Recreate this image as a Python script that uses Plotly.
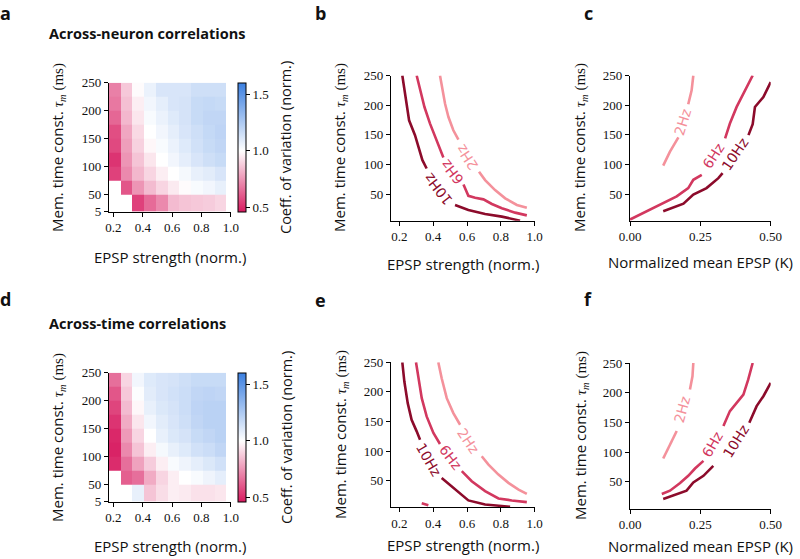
import plotly.graph_objects as go

W, H = 800, 559

# ---------------- data ----------------
epsp_edges = [0.17, 0.25, 0.33, 0.41, 0.49, 0.57, 0.65, 0.73, 0.81, 0.89, 0.97]
tau_edges = [20, 50, 75, 100, 125, 150, 175, 200, 225, 250]
tau_ticks = [20, 50, 100, 150, 200, 250]
tau_ticklabels = ["5", "50", "100", "150", "200", "250"]
epsp_ticks = [0.2, 0.4, 0.6, 0.8, 1.0]
epsp_ticklabels = ["0.2", "0.4", "0.6", "0.8", "1.0"]
k_ticks = [0.0, 0.25, 0.5]
k_ticklabels = ["0.00", "0.25", "0.50"]
line_tau_ticks = [50, 100, 150, 200, 250]
line_tau_ticklabels = ["50", "100", "150", "200", "250"]
cv_ticks = [0.5, 1.0, 1.5]
cv_ticklabels = ["0.5", "1.0", "1.5"]
cv_min, cv_max = 0.46, 1.6

# rows bottom -> top, columns left -> right (None = not computed)
cv_neuron = [
    [None, None, 0.55, 0.65, 0.72, 0.84, 0.86, 0.87, 0.88, 0.90],
    [None, 0.60, 0.75, 0.84, 0.90, 0.95, 0.99, 1.02, 1.04, 1.07],
    [0.55, 0.72, 0.83, 0.90, 0.96, 1.00, 1.03, 1.07, 1.09, 1.12],
    [0.52, 0.75, 0.86, 0.94, 1.00, 1.04, 1.08, 1.12, 1.15, 1.17],
    [0.57, 0.77, 0.89, 0.98, 1.02, 1.06, 1.10, 1.14, 1.17, 1.19],
    [0.58, 0.79, 0.91, 1.00, 1.04, 1.08, 1.12, 1.15, 1.18, 1.20],
    [0.64, 0.83, 0.94, 1.02, 1.06, 1.10, 1.13, 1.17, 1.19, 1.19],
    [0.68, 0.85, 0.96, 1.04, 1.08, 1.12, 1.13, 1.17, 1.18, 1.17],
    [0.70, 0.87, 0.99, 1.06, 1.12, 1.12, 1.12, 1.15, 1.15, 1.15],
]
cv_time = [
    [None, None, 1.07, 0.86, 0.92, 0.96, 0.95, 0.93, 0.93, 0.94],
    [None, 0.62, 0.66, 0.80, 0.90, 0.96, 1.00, 1.02, 1.05, 1.08],
    [0.50, 0.66, 0.78, 0.88, 0.96, 1.02, 1.05, 1.08, 1.11, 1.14],
    [0.48, 0.72, 0.86, 0.96, 1.03, 1.07, 1.10, 1.14, 1.16, 1.19],
    [0.49, 0.76, 0.90, 1.00, 1.07, 1.11, 1.13, 1.17, 1.19, 1.21],
    [0.52, 0.80, 0.94, 1.04, 1.09, 1.12, 1.15, 1.19, 1.21, 1.21],
    [0.56, 0.84, 0.98, 1.07, 1.11, 1.13, 1.16, 1.20, 1.21, 1.21],
    [0.60, 0.87, 1.01, 1.09, 1.12, 1.14, 1.16, 1.19, 1.20, 1.19],
    [0.66, 0.90, 1.04, 1.10, 1.12, 1.13, 1.15, 1.17, 1.17, 1.17],
]

# iso-rate contours (None = gap where inline label sits)
b_2hz_x = [0.440, 0.454, 0.470, 0.490, 0.519, 0.549, None, 0.671, 0.707, 0.766, 0.826, 0.895, 0.954]
b_2hz_y = [250, 224.8, 202.4, 180, 157.6, 141.9, None, 87.5, 73.5, 56.7, 42.7, 31.5, 27]
b_6hz_x = [0.302, 0.322, 0.348, 0.381, 0.411, 0.440, 0.460, None, 0.579, 0.608, 0.648, 0.697, 0.747, 0.806, 0.885, 0.954]
b_6hz_y = [250, 224.8, 196.8, 168.8, 146.4, 124, 111.6, None, 66, 47, 43.8, 41, 33.2, 26, 18.6, 14]
b_10hz_x = [0.217, 0.229, 0.243, 0.257, 0.292, 0.312, 0.336, 0.361, None, 0.529, 0.608, 0.707, 0.806, 0.914]
b_10hz_y = [250, 224.8, 196.8, 174.4, 149.2, 129.6, 107.1, 93.1, None, 31.5, 23.1, 16.4, 11.9, 5]

c_2hz_x = [0.118, 0.142, 0.172, None, 0.207, 0.219, 0.225]
c_2hz_y = [98, 121.5, 145.5, None, 201.4, 224.9, 250]
c_6hz_x = [0.0, 0.059, 0.118, 0.166, 0.207, 0.225, 0.255, None, 0.338, 0.355, 0.379, 0.403, 0.436]
c_6hz_y = [7, 21, 33.8, 46, 60, 74, 82.4, None, 143.9, 169, 197, 219.3, 250]
c_10hz_x = [0.118, 0.190, 0.225, 0.272, 0.314, 0.329, None, 0.421, 0.436, 0.444, 0.474, 0.5]
c_10hz_y = [21, 33.8, 49, 60, 76.8, 85.2, None, 149.4, 167.9, 196.9, 213.7, 238.8]

e_2hz_x = [0.430, 0.450, 0.480, 0.519, 0.559, None, 0.687, 0.727, 0.786, 0.845, 0.905, 0.954]
e_2hz_y = [250, 223, 189.4, 164.1, 144.5, None, 91.2, 77.2, 60.3, 46.3, 35, 27.8]
e_6hz_x = [0.298, 0.312, 0.332, 0.361, 0.401, 0.440, None, 0.569, 0.628, 0.707, 0.786, 0.865, 0.954, None, 0.332, 0.371]
e_6hz_y = [250, 223, 189.4, 158.5, 130.5, 112, None, 66, 49.1, 32.3, 20, 16.6, 13.8, None, 12, 8.5]
e_10hz_x = [0.217, 0.229, 0.249, 0.272, 0.302, 0.322, None, 0.450, 0.510, 0.608, 0.707, 0.855]
e_10hz_y = [250, 217.5, 181, 152.9, 133.3, 119, None, 54.7, 40.7, 16.6, 9.8, 6]

f_2hz_x = [0.118, 0.142, 0.166, None, 0.213, 0.222, 0.225]
f_2hz_y = [89.1, 113.1, 135.5, None, 205.3, 227.7, 250]
f_6hz_x = [0.113, 0.142, 0.178, 0.207, 0.231, 0.261, None, 0.332, 0.355, 0.403, 0.420, 0.436]
f_6hz_y = [29.3, 35, 47.8, 60, 72.3, 85.2, None, 143.9, 169, 196.9, 222, 250]
f_10hz_x = [0.118, 0.154, 0.201, 0.225, 0.261, 0.296, None, 0.424, 0.450, 0.474, 0.5]
f_10hz_y = [21, 26.5, 35, 48.9, 60, 76.8, None, 149.4, 177.4, 194.1, 216.5]

# contour label (text, x, y, angle) per panel
labels_b = [("2Hz", 0.599, 112.7, -123), ("6Hz", 0.510, 87.5, -128), ("10Hz", 0.430, 59.5, -128)]
labels_c = [("2Hz", 0.187, 171.8, -73), ("6Hz", 0.296, 114.3, -57), ("10Hz", 0.373, 117.7, -56)]
labels_e = [("2Hz", 0.608, 117.5, 56), ("6Hz", 0.500, 89.4, 52), ("10Hz", 0.375, 85.5, 60)]
labels_f = [("2Hz", 0.187, 171.8, -75), ("6Hz", 0.294, 113.1, -60), ("10Hz", 0.377, 118.7, -58)]

rate_colors = {"2Hz": "#f4919b", "6Hz": "#d2385f", "10Hz": "#8c0b2b"}

# ---------------- styles ----------------
SANS = "Open Sans"
SERIF = "Liberation Serif, DejaVu Serif, Times New Roman, serif"
TICKFONT = dict(family=SERIF, size=13, color="#111")


def xd(p0, p1):
    return [p0 / W, p1 / W]


def yd(top, bottom):
    return [1 - bottom / H, 1 - top / H]


def axis(domain, rng, tickvals, ticktext, anchor):
    return dict(domain=domain, range=rng, tickvals=tickvals, ticktext=ticktext,
                anchor=anchor, showline=True, linecolor="black", linewidth=1.2,
                ticks="outside", ticklen=4, tickwidth=1, tickcolor="black",
                showgrid=False, zeroline=False, mirror=False, tickfont=TICKFONT,
                fixedrange=True, automargin=False)


fig = go.Figure()

cscale = [[0.0, "#d81b60"], [(1.0 - cv_min) / (cv_max - cv_min), "#ffffff"], [1.0, "#3b7fe0"]]

fig.add_trace(go.Heatmap(x=epsp_edges, y=tau_edges, z=cv_neuron, coloraxis="coloraxis",
                         xaxis="x", yaxis="y", hoverongaps=False))
fig.add_trace(go.Heatmap(x=epsp_edges, y=tau_edges, z=cv_time, coloraxis="coloraxis2",
                         xaxis="x4", yaxis="y4", hoverongaps=False))


def add_lines(ax, series):
    for name, xs, ys in series:
        fig.add_trace(go.Scatter(x=xs, y=ys, mode="lines", connectgaps=False,
                                 line=dict(color=rate_colors[name], width=2.6),
                                 xaxis="x" + ax, yaxis="y" + ax, showlegend=False,
                                 hoverinfo="skip"))


add_lines("2", [("2Hz", b_2hz_x, b_2hz_y), ("6Hz", b_6hz_x, b_6hz_y), ("10Hz", b_10hz_x, b_10hz_y)])
add_lines("3", [("2Hz", c_2hz_x, c_2hz_y), ("6Hz", c_6hz_x, c_6hz_y), ("10Hz", c_10hz_x, c_10hz_y)])
add_lines("5", [("2Hz", e_2hz_x, e_2hz_y), ("6Hz", e_6hz_x, e_6hz_y), ("10Hz", e_10hz_x, e_10hz_y)])
add_lines("6", [("2Hz", f_2hz_x, f_2hz_y), ("6Hz", f_6hz_x, f_6hz_y), ("10Hz", f_10hz_x, f_10hz_y)])


def cbar(yc):
    return dict(x=237.5 / W, xanchor="left", xpad=0, ypad=0, y=1 - yc / H, yanchor="middle",
                len=129, lenmode="pixels", thickness=8, thicknessmode="pixels",
                outlinewidth=1, outlinecolor="black", ticks="outside", ticklen=4,
                tickcolor="black", tickvals=cv_ticks, ticktext=cv_ticklabels,
                tickfont=TICKFONT)


layout = dict(
    width=W, height=H, margin=dict(l=0, r=0, t=0, b=0, autoexpand=False),
    paper_bgcolor="white", plot_bgcolor="white", showlegend=False,
    coloraxis=dict(colorscale=cscale, cmin=cv_min, cmax=cv_max, colorbar=cbar(147.2)),
    coloraxis2=dict(colorscale=cscale, cmin=cv_min, cmax=cv_max, colorbar=cbar(437.2)),
    xaxis=axis(xd(109, 230.8), [0.17, 1.0], epsp_ticks, epsp_ticklabels, "y"),
    yaxis=axis(yd(82.7, 211.6), [20, 250], tau_ticks, tau_ticklabels, "x"),
    xaxis2=axis(xd(391, 534.6), [0.15, 1.0], epsp_ticks, epsp_ticklabels, "y2"),
    yaxis2=axis(yd(75.5, 220.7), [5, 250], line_tau_ticks, line_tau_ticklabels, "x2"),
    xaxis3=axis(xd(630, 770.7), [0.0, 0.5], k_ticks, k_ticklabels, "y3"),
    yaxis3=axis(yd(75.5, 220.7), [5, 250], line_tau_ticks, line_tau_ticklabels, "x3"),
    xaxis4=axis(xd(109, 230.8), [0.17, 1.0], epsp_ticks, epsp_ticklabels, "y4"),
    yaxis4=axis(yd(372.7, 501.6), [20, 250], tau_ticks, tau_ticklabels, "x4"),
    xaxis5=axis(xd(391, 534.6), [0.15, 1.0], epsp_ticks, epsp_ticklabels, "y5"),
    yaxis5=axis(yd(362.3, 507.3), [5, 250], line_tau_ticks, line_tau_ticklabels, "x5"),
    xaxis6=axis(xd(630, 770.7), [0.0, 0.5], k_ticks, k_ticklabels, "y6"),
    yaxis6=axis(yd(363, 508.5), [5, 250], line_tau_ticks, line_tau_ticklabels, "x6"),
)
fig.update_layout(**layout)

ann = []


def paper_text(text, px, py, size=15, angle=0, xanchor="center", yanchor="middle", family=SANS):
    ann.append(dict(text=text, x=px / W, y=1 - py / H, xref="paper", yref="paper",
                    showarrow=False, textangle=angle, xanchor=xanchor, yanchor=yanchor,
                    font=dict(family=family, size=size, color="#111")))


# panel letters
for letter, px, py in [("a", 5, 13), ("b", 320, 13), ("c", 588, 13),
                       ("d", 5, 299), ("e", 320, 300), ("f", 588, 299)]:
    paper_text("<b>%s</b>" % letter, px, py, size=18)

# heatmap titles
paper_text("<b>Across-neuron correlations</b>", 47, 33, size=14.5, xanchor="left")
paper_text("<b>Across-time correlations</b>", 47, 323, size=14.5, xanchor="left")

ylab = ("Mem. time const. <span style='font-family:Liberation Serif'><i>τ<sub>m</sub></i> (ms)</span>")
for px, py in [(57, 147), (340, 148), (580, 148), (57, 437), (340, 435), (580, 436)]:
    paper_text(ylab, px, py, size=15, angle=-90)

paper_text("EPSP strength (norm.)", 170, 257)
paper_text("EPSP strength (norm.)", 463, 264)
paper_text("Normalized mean EPSP (K)", 700, 262)
paper_text("EPSP strength (norm.)", 170, 546)
paper_text("EPSP strength (norm.)", 463, 545)
paper_text("Normalized mean EPSP (K)", 700, 546)

paper_text("Coeff. of variation (norm.)", 286, 148, size=14.5, angle=-90)
paper_text("Coeff. of variation (norm.)", 286, 438, size=14.5, angle=-90)

# inline contour labels
for ax, labs in [("2", labels_b), ("3", labels_c), ("5", labels_e), ("6", labels_f)]:
    for name, x, y, ang in labs:
        ann.append(dict(text=name, x=x, y=y, xref="x" + ax, yref="y" + ax, showarrow=False,
                        textangle=ang, xanchor="center", yanchor="middle",
                        font=dict(family="DejaVu Sans", size=14, color=rate_colors[name])))

fig.update_layout(annotations=ann)
fig.write_html("out.html", config={"displayModeBar": False},
               post_script="document.body.style.margin='0px';document.body.style.overflow='hidden';")
